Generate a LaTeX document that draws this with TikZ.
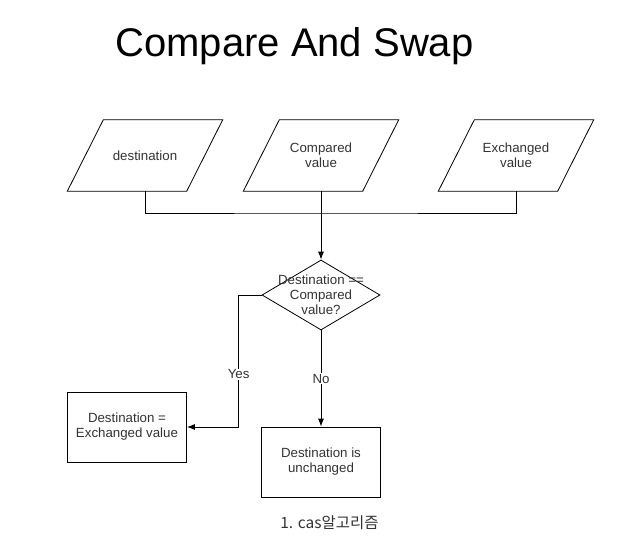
\documentclass[tikz,border=0pt]{standalone}
\usepackage{fontspec}
\setmainfont{Liberation Sans}
\newfontfamily\cjk{Noto Sans CJK KR}
\usetikzlibrary{shapes.geometric,arrows.meta}
\tikzset{
  inbox/.style={rectangle, minimum width=119pt, minimum height=71pt, inner sep=0pt,
    align=center, text=black!80, font=\fontsize{13.3}{15}\selectfont},
  stepbox/.style={draw, thick, rectangle, minimum width=119pt, minimum height=70pt,
    align=center, text=black!80, font=\fontsize{13.3}{15}\selectfont},
  testbox/.style={draw, thick, diamond, minimum width=118pt, minimum height=70pt, inner sep=0pt},
  lbl/.style={fill=white, inner sep=1pt, text=black!80, font=\fontsize{13.3}{15}\selectfont},
  flow/.style={thick, -{Latex[length=8pt,width=6pt]}}
}
\begin{document}
\begin{tikzpicture}[x=1pt,y=-1pt]
\useasboundingbox (0,0) rectangle (636,556);

\node[font=\fontsize{40}{44}\selectfont] (title) at (294.5,46) {Compare And Swap};

% input parallelograms
\foreach \x/\name/\lab in {
145/dest/{destination},
321/comp/{Compared\\value},
516/exch/{Exchanged\\value}}
{
  \node[inbox] (\name) at (\x,155.5) {\lab};
  \draw[thick] ([xshift=-18pt]\name.south west) -- ([xshift=18pt]\name.north west)
    -- ([xshift=18pt]\name.north east) -- ([xshift=-18pt]\name.south east) -- cycle;
}
\coordinate (join) at (321,213);
\draw[thick] (dest.south) |- (join) -| (exch.south);

\node[testbox, label={[align=center, text=black!80, font=\fontsize{13.3}{15}\selectfont]center:Destination ==\\Compared\\value?}] (test) at (321,295) {};
\draw[flow] (comp.south) -- (test.north);

\node[stepbox] (same) at (127,427) {Destination =\\Exchanged value};
\node[stepbox] (keep) at (321,462) {Destination is\\unchanged};

\draw[flow] (test.west) -- ++(-23,0) |- node[lbl, pos=0.3] {Yes} (same.east);
\draw[flow] (test.south) -- node[lbl, pos=0.5] {No} (keep.north);

\node[text=black!80, font=\cjk\fontsize{15.5}{17}\selectfont] (cap) at (329.5,523) {1. cas알고리즘};
\end{tikzpicture}
\end{document}
